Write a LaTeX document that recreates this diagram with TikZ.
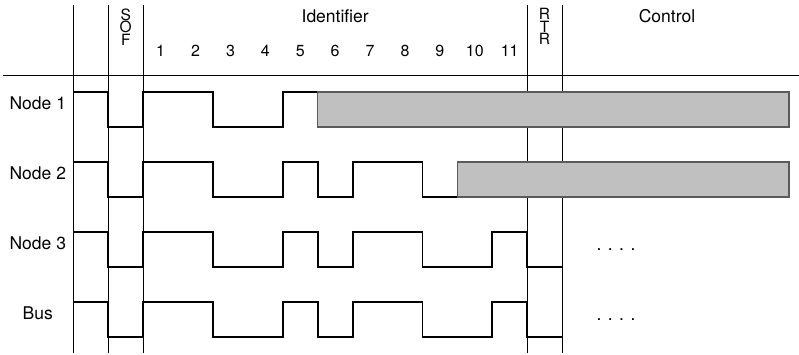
\documentclass[tikz,border=0pt]{standalone}
\usepackage{fontspec}
\setmainfont{TeX Gyre Heros}
\usetikzlibrary{positioning}
\definecolor{BoxGray} {RGB}{192,192,192}
\definecolor{EdgeGray}{RGB}{90, 90, 90}

\tikzset{
  frame/.style={black,line width=0.8pt},
  sig/.style={black,line width=1.8pt,line join=miter},
  busy/.style={fill=BoxGray,draw=EdgeGray,line width=1.2pt},
  lbl/.style={font=\fontsize{17.5}{20}\selectfont},
  hdr/.style={font=\fontsize{16}{12}\selectfont,anchor=base,inner sep=0pt},
  stack/.style={font=\fontsize{15.5}{12.4}\selectfont,align=center,inner sep=0pt},
}

\begin{document}
\begin{tikzpicture}[x=1pt,y=-1pt]
        \useasboundingbox (0,0) rectangle (799,355);
        % field grid
        \draw[frame] (3,75) -- (799,75);
        \foreach \x in {73.4,108.3,143.2,527.1,562.0}
          \draw[frame] (\x,5) -- (\x,353);
        % header
        \node[stack] (sof) at (125.75,27) {S\\O\\F};
        \node[stack] (rtr) at (544.55,26.5) {R\\T\\R};
        \foreach \i in {1,...,11}
          \node[hdr] (bit\i) at ({143.2+(\i-0.5)*34.9},57) {\i};
        \node[hdr,font=\fontsize{17.5}{20}\selectfont] (ident) at (335.2,22.3) {Identifier};
        \node[hdr,font=\fontsize{17.5}{20}\selectfont] (ctrl) at (667,22.3) {Control};
        % row labels
        \foreach \t [count=\i] in {Node 1,Node 2,Node 3,Bus}
          \node[lbl] (row\i) at (37.8,{103.7+70*(\i-1)}) {\t};
        % Node 1
        \draw[sig] (73.4,92) -- ++(34.9,0) |- ++(34.9,35) |- ++(69.8,-35)
          |- ++(69.8,35) |- ++(34.9,-35);
        \draw[busy] (317.7,92) rectangle (789,127);
        % Node 2
        \draw[sig] (73.4,162) -- ++(34.9,0) |- ++(34.9,35) |- ++(69.8,-35)
          |- ++(69.8,35) |- ++(34.9,-35) |- ++(34.9,35) |- ++(69.8,-35)
          |- ++(34.9,35);
        \draw[busy] (457.3,162) rectangle (789,197);
        % Node 3 and bus
        \foreach \y/\n in {232/n3,302/bus}{
          \draw[sig] (73.4,\y) -- ++(34.9,0) |- ++(34.9,35) |- ++(69.8,-35)
            |- ++(69.8,35) |- ++(34.9,-35) |- ++(34.9,35) |- ++(69.8,-35)
            |- ++(69.8,35) |- ++(34.9,-35) |- ++(34.9,35);
          \node[lbl,anchor=base] (dots\n) at (616,\y+18.5) {. . . .};}
      \end{tikzpicture}
\end{document}
